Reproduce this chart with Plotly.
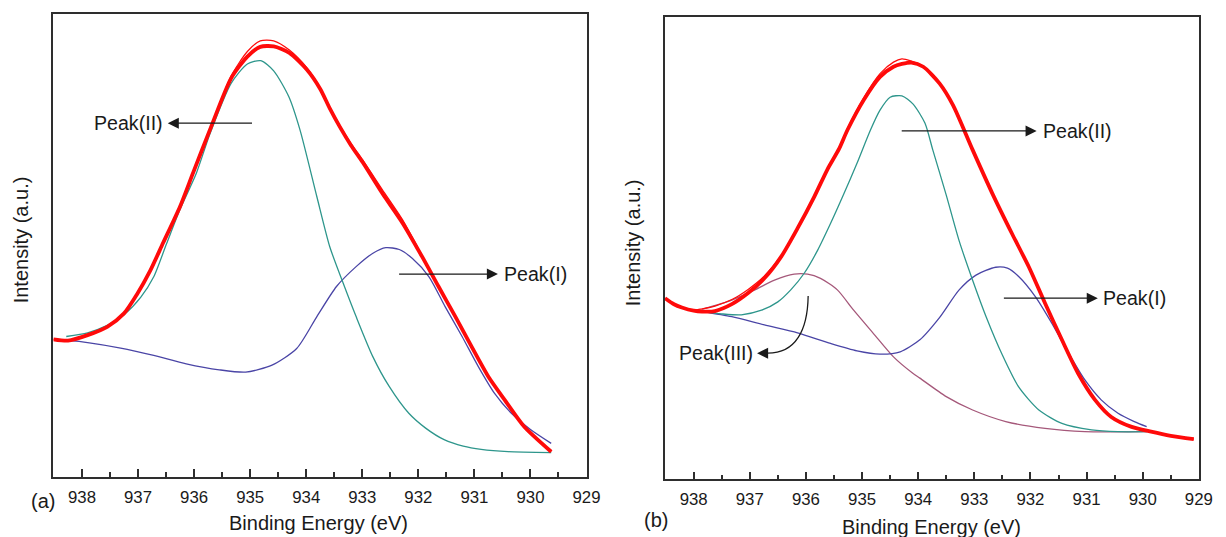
import plotly.graph_objects as go

# ---------------- (a) ----------------
a_total_energy = [938.51, 938.25, 937.90, 937.55, 937.25, 937.02, 936.78, 936.55, 936.25,
                  936.02, 935.72, 935.34, 935.05, 934.82, 934.58, 934.30, 933.99, 933.75,
                  933.58, 933.40, 933.20, 932.99, 932.64, 932.28, 931.93, 931.64, 931.34,
                  931.05, 930.75, 930.46, 930.11, 929.63]
a_total_fit = [29.7, 29.4, 30.6, 32.4, 35.3, 39.4, 44.6, 50.6, 58.4,
               65.6, 74.9, 86.1, 90.8, 92.9, 93.0, 91.6, 88.0, 83.8,
               79.6, 75.6, 71.6, 67.9, 61.2, 54.8, 47.5, 41.1, 34.6,
               28.1, 21.6, 16.6, 10.8, 5.4]
a_total_data = [29.7, 29.4, 30.6, 32.4, 35.3, 39.4, 44.6, 50.6, 58.4,
                65.6, 74.9, 86.6, 91.9, 94.2, 94.2, 92.2, 88.4, 84.0,
                79.9, 75.9, 72.0, 68.4, 62.0, 55.5, 47.7, 41.2, 34.6,
                28.1, 21.6, 16.6, 10.8, 5.4]

a_peak2_energy = [938.28, 937.90, 937.55, 937.25, 936.95, 936.72, 936.49, 936.25, 935.96,
                  935.72, 935.34, 935.05, 934.81, 934.58, 934.31, 934.11, 933.81, 933.58,
                  933.34, 933.11, 932.81, 932.52, 932.17, 931.87, 931.54, 931.20, 930.88,
                  930.40, 929.63]
a_peak2 = [30.3, 31.1, 32.7, 35.0, 38.8, 43.2, 50.4, 57.8, 65.6,
           74.0, 85.0, 89.2, 89.9, 87.7, 82.1, 74.9, 60.5, 49.7,
           41.8, 34.6, 25.9, 19.5, 13.7, 10.5, 8.0, 6.6, 5.9,
           5.4, 5.2]

a_peak1_energy = [938.30, 937.90, 937.31, 936.72, 936.14, 935.55, 935.08, 934.61, 934.17,
                  933.81, 933.46, 933.11, 932.81, 932.58, 932.34, 932.11, 931.81, 931.52,
                  931.22, 930.93, 930.64, 930.34, 930.00, 929.63]
a_peak1 = [29.5, 29.0, 27.8, 26.2, 24.4, 23.1, 22.6, 24.1, 27.7,
           34.6, 41.1, 45.4, 48.3, 49.5, 49.1, 47.2, 43.2, 36.7,
           30.3, 23.8, 18.0, 13.7, 10.2, 7.2]

# ---------------- (b) ----------------
b_total_energy = [938.51, 938.35, 938.21, 938.00, 937.85, 937.62, 937.32, 937.03, 936.74,
                  936.44, 936.15, 935.85, 935.62, 935.41, 935.26, 934.97, 934.68, 934.44,
                  934.29, 934.12, 933.91, 933.62, 933.38, 933.03, 932.68, 932.33, 932.03,
                  931.74, 931.44, 931.15, 930.85, 930.56, 930.21, 929.85, 929.50, 929.09]
b_total_fit = [39.2, 37.9, 37.2, 36.5, 36.3, 36.4, 37.9, 40.3, 43.5,
               48.2, 54.3, 61.2, 67.0, 71.5, 75.6, 82.1, 87.1, 89.3,
               89.9, 90.2, 89.3, 85.7, 81.0, 71.3, 61.9, 53.2, 46.0,
               38.1, 30.2, 22.9, 17.2, 13.5, 11.4, 10.3, 9.4, 8.7]
b_total_data = [39.2, 37.9, 37.2, 36.6, 36.9, 37.5, 38.9, 41.1, 44.0,
                48.4, 54.3, 61.2, 67.0, 71.6, 75.9, 82.6, 87.8, 90.3,
                91.0, 90.5, 89.4, 85.7, 81.0, 71.3, 61.9, 53.2, 46.0,
                38.1, 30.2, 22.9, 17.2, 13.5, 11.4, 10.3, 9.4, 8.7]

b_peak2_energy = [937.85, 937.50, 937.15, 936.79, 936.50, 936.27, 936.03, 935.79, 935.56,
                  935.32, 935.09, 934.85, 934.68, 934.50, 934.29, 934.09, 933.88, 933.74,
                  933.50, 933.27, 933.03, 932.79, 932.50, 932.21, 931.85, 931.44, 930.91,
                  930.44, 929.91]
b_peak2 = [36.3, 35.8, 35.6, 36.6, 38.4, 41.0, 44.6, 49.6, 55.4,
           61.9, 68.4, 75.6, 79.9, 82.7, 83.0, 81.2, 77.1, 71.3,
           61.5, 51.6, 43.1, 35.2, 26.9, 20.0, 15.0, 12.1, 10.7,
           10.3, 10.3]

b_peak3_energy = [937.85, 937.32, 936.91, 936.56, 936.21, 935.97, 935.74, 935.44, 935.15,
                  934.80, 934.44, 934.09, 933.97, 933.50, 933.03, 932.44, 931.74, 931.03,
                  929.93]
b_peak3 = [36.8, 38.8, 41.0, 43.1, 44.4, 44.4, 43.5, 41.0, 36.6,
           31.6, 26.5, 22.9, 21.9, 17.9, 15.0, 12.5, 11.0, 10.3,
           10.3]

b_peak1_energy = [937.85, 937.32, 936.74, 936.15, 935.56, 935.09, 934.68, 934.32, 933.97,
                  933.62, 933.27, 932.97, 932.62, 932.41, 932.21, 931.91, 931.62, 931.32,
                  931.03, 930.74, 930.44, 930.15, 929.93]
b_peak1 = [36.3, 35.2, 33.4, 31.7, 29.4, 27.8, 27.1, 27.6, 30.2,
           35.0, 41.0, 44.2, 45.9, 45.7, 43.9, 39.5, 33.8, 27.3,
           21.5, 17.2, 14.3, 12.5, 11.4]

tick_values = [938, 937, 936, 935, 934, 933, 932, 931, 930, 929]
minor_tick_values = [938.5, 937.5, 936.5, 935.5, 934.5, 933.5, 932.5, 931.5, 930.5, 929.5]

RED = "#FF0A0A"
TEAL = "#2E968C"
BLUE = "#4A45A6"
MAUVE = "#A5587A"
INK = "#1A1A1A"
FRAME = "#2E2E2E"
FONT = "Liberation Sans, Arial, Helvetica, sans-serif"

fig = go.Figure()


def line(x, y, color, width, xa, ya):
    fig.add_trace(go.Scatter(
        x=x, y=y, mode="lines", xaxis=xa, yaxis=ya,
        line=dict(color=color, width=width, shape="spline", smoothing=0.7),
        hoverinfo="skip", showlegend=False,
    ))


# panel (a)
line(a_peak1_energy, a_peak1, BLUE, 1.3, "x", "y")
line(a_peak2_energy, a_peak2, TEAL, 1.3, "x", "y")
line(a_total_energy, a_total_data, RED, 1.2, "x", "y")
line(a_total_energy, a_total_fit, RED, 3.8, "x", "y")

# panel (b)
line(b_peak3_energy, b_peak3, MAUVE, 1.3, "x2", "y2")
line(b_peak1_energy, b_peak1, BLUE, 1.3, "x2", "y2")
line(b_peak2_energy, b_peak2, TEAL, 1.3, "x2", "y2")
line(b_total_energy, b_total_data, RED, 1.2, "x2", "y2")
line(b_total_energy, b_total_fit, RED, 3.8, "x2", "y2")

xaxis_style = dict(
    range=[938.51, 929], tickvals=tick_values, ticks="inside", ticklen=8,
    tickwidth=1.5, tickcolor=FRAME, showline=True, linecolor=FRAME, linewidth=1.6,
    mirror=True, showgrid=False, zeroline=False,
    tickfont=dict(family=FONT, size=16.8, color=INK), ticklabelstandoff=4,
    minor=dict(tickvals=minor_tick_values, ticks="inside", ticklen=5,
               tickwidth=1.5, tickcolor=FRAME, showgrid=False),
)
yaxis_style = dict(
    range=[0, 100], showticklabels=False, ticks="", showline=True,
    linecolor=FRAME, linewidth=1.6, mirror=True, showgrid=False, zeroline=False,
)

W, H = 1226, 537


def px_x(v):
    return v / W


def px_y(v):
    return 1 - v / H


fig.update_layout(
    width=W, height=H, margin=dict(l=0, r=0, t=0, b=0),
    paper_bgcolor="white", plot_bgcolor="white",
    font=dict(family=FONT, color=INK),
    xaxis=dict(domain=[px_x(54), px_x(593.3)], anchor="y", **xaxis_style),
    yaxis=dict(domain=[px_y(476.7), px_y(14)], anchor="x", **yaxis_style),
    xaxis2=dict(domain=[px_x(672.7), px_x(1212.7)], anchor="y2", **xaxis_style),
    yaxis2=dict(domain=[px_y(479.3), px_y(17.3)], anchor="x2", **yaxis_style),
)

title_font = dict(family=FONT, size=20, color=INK)
label_font = dict(family=FONT, size=19.6, color=INK)
ann = []


def paper_text(x, y, text, angle=0):
    ann.append(dict(xref="paper", yref="paper", x=px_x(x), y=px_y(y), text=text,
                    showarrow=False, font=title_font, textangle=angle,
                    xanchor="center", yanchor="middle"))


# axis titles and panel letters
paper_text(322.5, 523, "Binding Energy (eV)")
paper_text(942.5, 527, "Binding Energy (eV)")
paper_text(21.6, 240, "Intensity (a.u.)", -90)
paper_text(640.5, 243, "Intensity (a.u.)", -90)
paper_text(43.8, 501, "(a)")
paper_text(663.8, 520, "(b)")


def arrow(xr, yr, tail, head):
    ann.append(dict(xref=xr, yref=yr, axref=xr, ayref=yr,
                    x=head[0], y=head[1], ax=tail[0], ay=tail[1], text="",
                    showarrow=True, arrowhead=2, arrowsize=1.7, arrowwidth=1.3,
                    arrowcolor=INK, standoff=0, startstandoff=0))


def label(xr, yr, x, y, text, anchor):
    ann.append(dict(xref=xr, yref=yr, x=x, y=y, text=text, showarrow=False,
                    font=label_font, xanchor=anchor, yanchor="middle", borderpad=0))


# (a) peak markers
arrow("x", "y", (934.94, 76.4), (936.47, 76.4))
label("x", "y", 936.53, 76.4, "Peak(II)", "right")
arrow("x", "y", (932.37, 43.8), (930.58, 43.8))
label("x", "y", 930.49, 43.8, "Peak(I)", "left")

# (b) peak markers
arrow("x2", "y2", (934.32, 75.4), (931.89, 75.4))
label("x2", "y2", 931.80, 75.4, "Peak(II)", "left")
arrow("x2", "y2", (932.50, 39.2), (930.80, 39.2))
label("x2", "y2", 930.73, 39.2, "Peak(I)", "left")
arrow("x2", "y2", (936.66, 27.3), (936.87, 27.3))
label("x2", "y2", 936.93, 27.4, "Peak(III)", "right")

fig.update_layout(
    annotations=ann,
    shapes=[dict(type="path", xref="x2", yref="y2",
                 path="M 935.96,39.7 C 935.97,32.3 936.18,27.3 936.68,27.3",
                 line=dict(color=INK, width=1.3))],
)

fig.write_html("out.html")
